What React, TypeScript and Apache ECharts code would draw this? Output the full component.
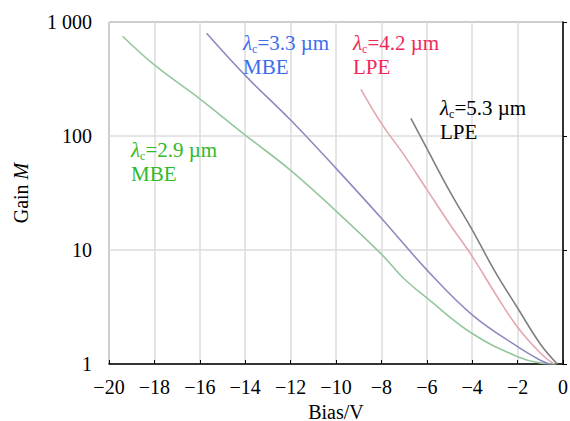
import React, { useEffect, useRef } from "react";
import * as echarts from "echarts";

const xRange = [-20, 0];
const greenBias = [-19.4, -18, -16, -14, -12, -10, -8, -7, -6, -4, -2, -1, -0.3];
const greenGain = [750, 420, 212, 102, 50, 22, 9.2, 5.6, 3.8, 1.85, 1.16, 1.02, 1];
const blueBias = [-15.7, -14, -12, -10, -8, -6, -4, -2, -1, -0.6];
const blueGain = [796, 340, 138, 52, 19, 6.7, 2.7, 1.42, 1.08, 1];
const redBias = [-8.9, -8, -7, -6, -5, -4, -3, -2, -1, -0.4];
const redGain = [257, 129, 68, 34, 17, 8.8, 4.2, 2.1, 1.25, 1];
const blackBias = [-6.7, -6, -5, -4, -3, -2, -1, -0.25];
const blackGain = [143, 78, 33, 15, 6.5, 3.1, 1.5, 1];

const font = "'Liberation Serif', 'Times New Roman', serif";

const pair = (xs: number[], ys: number[]) => xs.map((x, i) => [x, ys[i]]);

const richFor = (color: string) => ({
  l: { fontFamily: font, fontSize: 21, fontStyle: "italic", fill: color, color },
  s: { fontFamily: font, fontSize: 12, fill: color, color, padding: [11, 0, 0, 0] },
  n: { fontFamily: font, fontSize: 21, fill: color, color },
});

const label = (x: number, y: number, wl: string, method: string, color: string) => ({
  type: "text",
  left: x,
  top: y,
  z: 10,
  style: {
    text: `{l|λ}{s|c}{n|=${wl} µm}\n{n|${method}}`,
    rich: richFor(color),
    lineHeight: 24,
    fill: color,
  },
});

export default function App() {
  const ref = useRef<HTMLDivElement>(null);
  useEffect(() => {
    if (!ref.current) return;
    const chart = echarts.init(ref.current, undefined, { renderer: "svg" });
    const line = (data: number[][], color: string) => ({
      type: "line",
      data,
      smooth: 0.4,
      showSymbol: false,
      symbol: "none",
      lineStyle: { color, width: 1.6 },
    });
    chart.setOption({
      animation: false,
      backgroundColor: "#fff",
      grid: {
        left: 109,
        right: 7,
        top: 22,
        bottom: 57,
        show: true,
        borderColor: "#444",
        borderWidth: 1,
        outerBoundsMode: "none",
        containLabel: false,
      },
      xAxis: {
        type: "value",
        min: xRange[0],
        max: xRange[1],
        interval: 2,
        name: "Bias/V",
        nameLocation: "middle",
        nameGap: 40,
        nameTextStyle: { fontFamily: font, fontSize: 20, lineHeight: 15, color: "#000" },
        axisLine: { show: true, lineStyle: { color: "#000", width: 1.5 } },
        axisTick: { show: true, inside: true, length: 4, lineStyle: { color: "#000" } },
        axisLabel: {
          fontFamily: font,
          fontSize: 20,
          color: "#000",
          margin: 13,
          formatter: (v: number) => (v < 0 ? "\u2212" + Math.abs(v) : String(v)),
        },
        splitLine: { show: true, lineStyle: { color: "#dcdcdc", width: 1.5 } },
      },
      yAxis: {
        type: "log",
        logBase: 10,
        min: 1,
        max: 1000,
        name: "{a|Gain }{b|M}",
        nameLocation: "middle",
        nameGap: 78,
        nameTextStyle: {
          fontFamily: font,
          fontSize: 20,
          color: "#000",
          rich: {
            a: { fontFamily: font, fontSize: 20, color: "#000" },
            b: { fontFamily: font, fontSize: 20, color: "#000", fontStyle: "italic" },
          },
        },
        axisLine: { show: true, lineStyle: { color: "#000", width: 1.5 } },
        axisTick: { show: true, inside: true, length: 4, lineStyle: { color: "#000" } },
        axisLabel: {
          fontFamily: font,
          fontSize: 20,
          color: "#000",
          margin: 17,
          formatter: (v: number) => (v >= 1000 ? "1 000" : String(v)),
        },
        splitLine: { show: true, lineStyle: { color: "#dcdcdc", width: 1.5 } },
      },
      series: [
        line(pair(greenBias, greenGain), "#94c79e"),
        line(pair(blueBias, blueGain), "#8c8cc0"),
        line(pair(redBias, redGain), "#e3a7ae"),
        line(pair(blackBias, blackGain), "#7f7f7f"),
      ],
      graphic: [
        label(243, 31, "3.3", "MBE", "#3d6cf0"),
        label(353, 31, "4.2", "LPE", "#f0285a"),
        label(440, 96, "5.3", "LPE", "#000000"),
        label(131, 138, "2.9", "MBE", "#33b82a"),
      ],
    });
    return () => chart.dispose();
  }, []);
  return (
    <div
      ref={ref}
      style={{ position: "absolute", left: 0, top: 0, width: 570, height: 421 }}
    />
  );
}
